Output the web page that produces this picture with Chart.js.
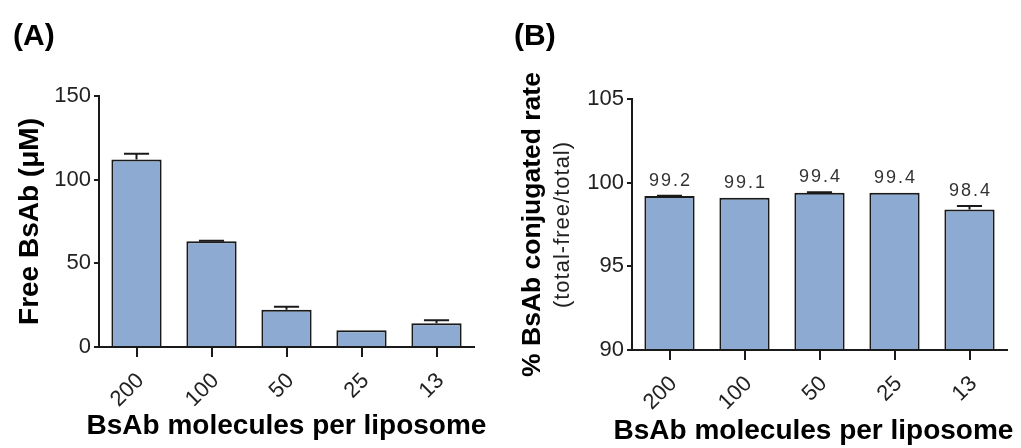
<!DOCTYPE html>
<html>
<head>
<meta charset="utf-8">
<script src="https://cdn.jsdelivr.net/npm/chart.js@4.4.1/dist/chart.umd.min.js"></script>
<style>
  body { margin: 0; background: #fff; }
  .panel { position: absolute; top: 0; height: 448px; }
  #panelA { left: 0; width: 500px; }
  #panelB { left: 500px; width: 521px; }
</style>
</head>
<body>
<div class="panel" id="panelA"><canvas id="chartA"></canvas></div>
<div class="panel" id="panelB"><canvas id="chartB"></canvas></div>
<script>
// data
const categories = ['200', '100', '50', '25', '13'];
const freeBsAb = [112, 63.2, 22.3, 10, 14.2];
const freeBsAbErr = [3.5, 0.3, 1.8, 0, 1.8];
const conjRate = [99.2, 99.1, 99.4, 99.4, 98.4];
const conjRateErr = [0.02, 0, 0.03, 0, 0.2];
const ticksA = [0, 50, 100, 150];
const ticksB = [90, 95, 100, 105];
const xTitle = 'BsAb molecules per liposome';

const ink = '#1a1a1a';
const barFill = '#8daad3';
const fontFamily = "'Liberation Sans', Arial, sans-serif";

Chart.defaults.font.family = fontFamily;
Chart.defaults.color = '#222';

// upper-only error bars with a cap half the bar width
const errorBars = {
    id: 'errorBars',
    afterDatasetsDraw(chart, args, opts) {
        const meta = chart.getDatasetMeta(0);
        const vals = chart.data.datasets[0].data;
        const yScale = chart.scales.y;
        const ctx = chart.ctx;
        ctx.save();
        ctx.strokeStyle = ink;
        ctx.lineWidth = 2;
        meta.data.forEach((bar, i) => {
            const err = opts.errors[i];
            if (!err) return;
            const top = yScale.getPixelForValue(vals[i] + err);
            const half = bar.width / 4;
            ctx.beginPath();
            ctx.moveTo(bar.x, bar.y);
            ctx.lineTo(bar.x, top);
            ctx.moveTo(bar.x - half, top);
            ctx.lineTo(bar.x + half, top);
            ctx.stroke();
        });
        ctx.restore();
    }
};

// x title (wider than the plot, so the scale title would squeeze it),
// numbers above bars and the second y-title line for panel B
const extras = {
    id: 'extras',
    afterDraw(chart, args, opts) {
        const ctx = chart.ctx;
        const area = chart.chartArea;

        ctx.save();
        ctx.fillStyle = '#000';
        ctx.font = "bold 28px " + fontFamily;
        ctx.textAlign = 'center';
        ctx.textBaseline = 'middle';
        ctx.fillText(opts.xTitle, (area.left + area.right) / 2 + opts.xTitleDx, opts.xTitleY);
        ctx.restore();

        if (!opts.labels) return;
        const meta = chart.getDatasetMeta(0);
        const vals = chart.data.datasets[0].data;
        const yScale = chart.scales.y;
        ctx.save();
        ctx.fillStyle = '#333';
        ctx.font = "18px " + fontFamily;
        ctx.textAlign = 'center';
        ctx.textBaseline = 'middle';
        ctx.letterSpacing = '2px';
        meta.data.forEach((bar, i) => {
            const y = yScale.getPixelForValue(vals[i] + opts.errors[i]) - 15;
            ctx.fillText(vals[i].toFixed(1), bar.x + 1, y);
        });
        ctx.restore();

        ctx.save();
        ctx.translate(opts.subX, (area.top + area.bottom) / 2);
        ctx.rotate(-Math.PI / 2);
        ctx.fillStyle = '#222';
        ctx.font = "22px " + fontFamily;
        ctx.letterSpacing = '1px';
        ctx.textAlign = 'center';
        ctx.textBaseline = 'middle';
        ctx.fillText(opts.subtitle, 0, 0);
        ctx.restore();
    }
};

function makePanel(canvasId, cfg) {
    return new Chart(document.getElementById(canvasId), {
        type: 'bar',
        data: {
            labels: categories,
            datasets: [{
                data: cfg.values,
                base: cfg.ticks[0],
                backgroundColor: barFill,
                borderColor: ink,
                borderWidth: 2,
                borderSkipped: 'start',
                barPercentage: 0.67,
                categoryPercentage: 1
            }]
        },
        options: {
            responsive: true,
            maintainAspectRatio: false,
            animation: false,
            layout: { padding: cfg.padding },
            plugins: {
                legend: { display: false },
                tooltip: { enabled: false },
                title: {
                    display: true,
                    text: cfg.panel,
                    align: 'start',
                    color: '#000',
                    font: { size: 30, weight: 'bold' },
                    padding: { top: 19, bottom: cfg.titleGap }
                },
                errorBars: { errors: cfg.errors },
                extras: cfg.extras
            },
            scales: {
                x: {
                    grid: { drawOnChartArea: false, offset: false, tickLength: 10, color: ink, lineWidth: 2 },
                    border: { color: ink, width: 2 },
                    ticks: { minRotation: 45, maxRotation: 45, padding: 11, labelOffset: 4, font: { size: 22 } },
                    afterFit: s => { s.height = cfg.xHeight; }
                },
                y: {
                    min: cfg.ticks[0],
                    max: cfg.ticks[cfg.ticks.length - 1],
                    afterBuildTicks: s => { s.ticks = cfg.ticks.map(v => ({ value: v })); },
                    grid: { drawOnChartArea: false, tickLength: 5, color: ink, lineWidth: 2 },
                    border: { color: ink, width: 2 },
                    ticks: { padding: 3, font: { size: 22 } },
                    title: {
                        display: true,
                        text: cfg.yTitle,
                        color: '#000',
                        font: { size: cfg.yTitleSize, weight: 'bold' },
                        padding: { top: cfg.yTitlePad, bottom: 0 }
                    },
                    afterFit: s => { s.width = cfg.yWidth; }
                }
            }
        },
        plugins: [errorBars, extras]
    });
}

makePanel('chartA', {
    panel: '(A)',
    values: freeBsAb,
    errors: freeBsAbErr,
    ticks: ticksA,
    yTitle: 'Free BsAb (\u03bcM)',
    yTitleSize: 28,
    padding: { left: 13, right: 26, top: 0, bottom: 0 },
    titleGap: 41,
    yWidth: 86,
    yTitlePad: 0,
    xHeight: 101,
    extras: { labels: false, xTitle: xTitle, xTitleDx: 0, xTitleY: 426 }
});

makePanel('chartB', {
    panel: '(B)',
    values: conjRate,
    errors: conjRateErr,
    ticks: ticksB,
    yTitle: '% BsAb conjugated rate',
    yTitleSize: 26.5,
    padding: { left: 14, right: 14, top: 0, bottom: 0 },
    titleGap: 44,
    yWidth: 118,
    yTitlePad: 3,
    xHeight: 98,
    extras: { labels: true, errors: conjRateErr, subtitle: '(total-free/total)', subX: 63,
              xTitle: xTitle, xTitleDx: -6, xTitleY: 431 }
});
</script>
</body>
</html>
